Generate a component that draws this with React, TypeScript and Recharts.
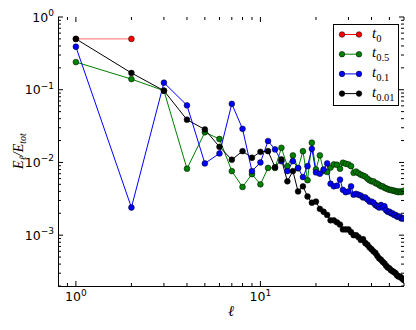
import { Line, LineChart, XAxis, YAxis } from 'recharts'

const ELL = [
  1, 2, 3, 4, 5, 6, 7, 8, 9, 10, 11, 12, 13, 14, 15, 16, 17, 18, 19, 20,
  21, 22, 23, 24, 25, 26, 27, 28, 29, 30, 31, 32, 33, 34, 35, 36, 37, 38, 39, 40,
  41, 42, 43, 44, 45, 46, 47, 48, 49, 50, 51, 52, 53, 54, 55, 56, 57, 58, 59, 60,
]

const T0 = [0.5, 0.5]

const T05 = [
  0.24, 0.14, 0.097, 0.0082, 0.026, 0.021, 0.0076, 0.0046, 0.0069, 0.005,
  0.0084, 0.0084, 0.0159, 0.0089, 0.0125, 0.0083, 0.0143, 0.0057, 0.0187, 0.008,
  0.0125, 0.0076, 0.0074, 0.0085, 0.0094, 0.0093, 0.0082, 0.0099, 0.0096, 0.0094,
  0.0089, 0.0072, 0.0075, 0.0071, 0.0068, 0.0066, 0.0064, 0.006, 0.0057, 0.0055,
  0.0055, 0.0052, 0.0051, 0.0049, 0.0047, 0.0047, 0.0045, 0.0044, 0.0043, 0.0042,
  0.0042, 0.0041, 0.0041, 0.004, 0.004, 0.0039, 0.004, 0.0039, 0.004, 0.0041,
]

const T01 = [
  0.39, 0.0024, 0.125, 0.061, 0.0097, 0.0133, 0.064, 0.029, 0.0076, 0.01,
  0.0197, 0.0151, 0.0104, 0.0076, 0.0104, 0.0084, 0.0063, 0.0089, 0.0154, 0.0073,
  0.007, 0.008, 0.0097, 0.0051, 0.0047, 0.0048, 0.0058, 0.0042, 0.0039, 0.004,
  0.0047, 0.0036, 0.0037, 0.0036, 0.0035, 0.0033, 0.0033, 0.0031, 0.0029, 0.0029,
  0.0028, 0.0026, 0.0025, 0.0024, 0.0026, 0.0024, 0.0025, 0.0022, 0.0021, 0.0021,
  0.002, 0.002, 0.0019, 0.0019, 0.0018, 0.0018, 0.0018, 0.0017, 0.0017, 0.0017,
]

const T001 = [
  0.5, 0.17, 0.097, 0.0387, 0.0284, 0.0164, 0.0109, 0.0143, 0.0116, 0.014,
  0.0143, 0.0086, 0.011, 0.0055, 0.0076, 0.004, 0.0047, 0.0034, 0.0028, 0.0029,
  0.0023, 0.0021, 0.0019, 0.0016, 0.0016, 0.0015, 0.0014, 0.0012, 0.0012, 0.0012,
  0.0011, 0.001, 0.001, 0.00094, 0.00086, 0.00088, 0.00078, 0.00074, 0.00068, 0.00064,
  0.0006, 0.00057, 0.00052, 0.00048, 0.00046, 0.00043, 0.00041, 0.00038, 0.00036, 0.00035,
  0.00033, 0.00032, 0.00031, 0.0003, 0.00028, 0.00027, 0.00027, 0.00026, 0.00025, 0.00024,
]

const X_MAJOR = [1, 10]
const X_TICKS = [0.9, 1, 2, 3, 4, 5, 6, 7, 8, 9, 10, 20, 30, 40, 50, 60]
const X_EXP: Record<number, string> = { 1: '0', 10: '1' }

const Y_MAJOR = [1, 0.1, 0.01, 0.001]
const Y_TICKS = [
  0.0002, 0.0003, 0.0004, 0.0005, 0.0006, 0.0007, 0.0008, 0.0009,
  0.001, 0.002, 0.003, 0.004, 0.005, 0.006, 0.007, 0.008, 0.009,
  0.01, 0.02, 0.03, 0.04, 0.05, 0.06, 0.07, 0.08, 0.09,
  0.1, 0.2, 0.3, 0.4, 0.5, 0.6, 0.7, 0.8, 0.9, 1,
]
const Y_EXP: Record<number, string> = { 1: '0', 0.1: '\u22121', 0.01: '\u22122', 0.001: '\u22123' }

const SERIES = [
  { key: 't0', sub: '0', color: '#ff0000', line: '#ff6a6a' },
  { key: 't05', sub: '0.5', color: '#008000', line: '#008000' },
  { key: 't01', sub: '0.1', color: '#0000ff', line: '#0000ff' },
  { key: 't001', sub: '0.01', color: '#000000', line: '#000000' },
]

const rows = ELL.map((l, i) => ({ l, t0: T0[i], t05: T05[i], t01: T01[i], t001: T001[i] }))

const W = 416
const H = 330
const PLOT = { left: 58, top: 17, right: 404, bottom: 286 }
const SANS = '"DejaVu Sans", sans-serif'
const SERIF = '"Liberation Serif", "DejaVu Serif", serif'
const FRAME = { stroke: '#000', strokeWidth: 1, shapeRendering: 'crispEdges' }

function XTick(props: any) {
  const { x, payload } = props
  const v = payload.value
  const major = X_MAJOR.includes(v)
  const len = major ? 5 : 3
  return (
    <g>
      <line x1={x} x2={x} y1={PLOT.bottom} y2={PLOT.bottom - len} stroke="#000" strokeWidth={1} />
      <line x1={x} x2={x} y1={PLOT.top} y2={PLOT.top + len} stroke="#000" strokeWidth={1} />
      {major && (
        <text x={x} y={301} textAnchor="middle" fontFamily={SANS} fontSize={12.5} fill="#000">
          10<tspan dy={-5.5} fontSize={9}>{X_EXP[v]}</tspan>
        </text>
      )}
    </g>
  )
}

function YTick(props: any) {
  const { y, payload } = props
  const v = payload.value
  const major = Y_MAJOR.includes(v)
  const len = major ? 5 : 3
  return (
    <g>
      <line x1={PLOT.left} x2={PLOT.left + len} y1={y} y2={y} stroke="#000" strokeWidth={1} />
      <line x1={PLOT.right} x2={PLOT.right - len} y1={y} y2={y} stroke="#000" strokeWidth={1} />
      {major && (
        <text x={PLOT.left - 4} y={y + 4.5} textAnchor="end" fontFamily={SANS} fontSize={12.5} fill="#000">
          10<tspan dy={-5.5} fontSize={9}>{Y_EXP[v]}</tspan>
        </text>
      )}
    </g>
  )
}

function LegendBox() {
  return (
    <div
      style={{
        position: 'absolute',
        left: 333,
        top: 24,
        width: 66,
        height: 82,
        border: '1px solid #000',
        background: '#fff',
        boxSizing: 'border-box',
      }}
    >
      <svg width={64} height={80} style={{ display: 'block' }}>
        {SERIES.map((s, i) => {
          const cy = 9.5 + i * 19.7
          return (
            <g key={s.key}>
              <line x1={8} x2={25} y1={cy} y2={cy} stroke={s.color} strokeWidth={1} />
              <circle cx={8} cy={cy} r={2.8} fill={s.color} stroke="#000" strokeWidth={0.5} />
              <circle cx={25} cy={cy} r={2.8} fill={s.color} stroke="#000" strokeWidth={0.5} />
              <text x={38} y={cy + 3} fontFamily={SERIF} fontStyle="italic" fontSize={15} fill="#000">
                t<tspan dy={4} fontSize={10.5} fontStyle="normal">{s.sub}</tspan>
              </text>
            </g>
          )
        })}
      </svg>
    </div>
  )
}

export default function App() {
  return (
    <div style={{ position: 'absolute', left: 0, top: 0, width: W, height: H, background: '#fff' }}>
      <LineChart width={W} height={H} data={rows} margin={{ top: 17, right: 12, left: 8, bottom: 0 }}>
        <XAxis
          dataKey="l"
          type="number"
          scale="log"
          domain={[0.8, 60]}
          allowDataOverflow
          ticks={X_TICKS}
          interval={0}
          height={44}
          axisLine={FRAME}
          tickLine={false}
          tick={XTick}
          label={{
            content: () => (
              <text x={231} y={316} textAnchor="middle" fontFamily={SERIF} fontStyle="italic" fontSize={15} fill="#000">
                ℓ
              </text>
            ),
          }}
        />
        <XAxis
          xAxisId="top"
          orientation="top"
          dataKey="l"
          type="number"
          scale="log"
          domain={[0.8, 60]}
          allowDataOverflow
          height={0}
          axisLine={FRAME}
          tickLine={false}
          tick={false}
        />
        <YAxis
          type="number"
          scale="log"
          domain={[0.0002, 1]}
          allowDataOverflow
          ticks={Y_TICKS}
          interval={0}
          width={50}
          axisLine={FRAME}
          tickLine={false}
          tick={YTick}
          label={{
            content: () => (
              <text
                x={23}
                y={151}
                transform="rotate(-90, 23, 151)"
                textAnchor="middle"
                fontFamily={SERIF}
                fontStyle="italic"
                fontSize={14}
                fill="#000"
              >
                E<tspan dy={3} fontSize={10}>ℓ</tspan>
                <tspan dy={-3}>/E</tspan>
                <tspan dy={3} fontSize={10}>tot</tspan>
              </text>
            ),
          }}
        />
        <YAxis
          yAxisId="right"
          orientation="right"
          type="number"
          scale="log"
          domain={[0.0002, 1]}
          allowDataOverflow
          width={0}
          axisLine={FRAME}
          tickLine={false}
          tick={false}
        />
        {SERIES.map((s) => (
          <Line
            key={s.key}
            dataKey={s.key}
            stroke={s.line}
            strokeWidth={1}
            isAnimationActive={false}
            dot={{ r: 2.9, fill: s.color, stroke: '#000', strokeWidth: 0.5 }}
            activeDot={false}
          />
        ))}
      </LineChart>
      <LegendBox />
    </div>
  )
}
